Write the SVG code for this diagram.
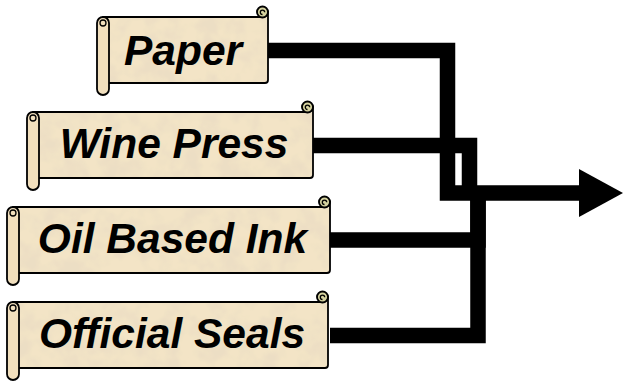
<svg xmlns="http://www.w3.org/2000/svg" width="623" height="381" viewBox="0 0 623 381">
  <defs>
    <!-- mottled parchment texture -->
    <filter id="mottle" x="0" y="0" width="623" height="381" filterUnits="userSpaceOnUse">
      <feTurbulence type="fractalNoise" baseFrequency="0.05" numOctaves="3" seed="7" result="noise"/>
      <feColorMatrix in="noise" type="matrix" values="0 0 0 0 0.84  0 0 0 0 0.73  0 0 0 0 0.55  3.2 0 0 0 -1.3" result="blot"/>
      <feComposite in="blot" in2="SourceGraphic" operator="in" result="blotIn"/>
      <feMerge>
        <feMergeNode in="SourceGraphic"/>
        <feMergeNode in="blotIn"/>
      </feMerge>
    </filter>
    <pattern id="parchment" patternUnits="userSpaceOnUse" x="0" y="0" width="623" height="381">
      <rect x="0" y="0" width="623" height="381" fill="#F3E4C6" filter="url(#mottle)"/>
    </pattern>
  </defs>
  <style>
    .body { fill: url(#parchment); stroke: #000; stroke-width: 1.8; stroke-linejoin: round; }
    .roll { fill: #F1DFBD; stroke: #000; stroke-width: 1.8; }
    .loop { fill: none; stroke: #000; stroke-width: 1.3; }
    .curl { fill: #D6D3A0; stroke: #000; stroke-width: 1.9; }
    .label { font-family: "Liberation Sans", Arial, sans-serif; font-weight: bold; font-style: italic; font-size: 42.5px; fill: #000; text-anchor: middle; }
    .wire { fill: none; stroke: #000; stroke-width: 15.5; stroke-linejoin: miter; stroke-linecap: butt; }
  </style>

  <rect width="623" height="381" fill="#fff"/>

  <!-- connectors -->
  <g id="connectors">
    <path class="wire" d="M268,50.5 H447.5 V193 H582"/>
    <path class="wire" d="M312,145.5 H469.5 V193"/>
    <path class="wire" d="M330,240 H478 V193"/>
    <path class="wire" d="M330,335.5 H478 V193"/>
    <polygon points="579,169 623,193 579,217" fill="#000"/>
  </g>

  <!-- Paper -->
  <g id="node-paper">
    <path class="body" d="M103,17 H262.5 A5.5,5.5 0 0 0 268,11.5 V80 Q268,83 265,83 H103 Z"/>
    <rect class="roll" x="97" y="17" width="12" height="78" rx="6"/>
    <circle class="loop" cx="103" cy="23" r="3"/>
    <circle class="curl" cx="262.5" cy="12" r="5.5"/>
    <path class="loop" d="M262.5,14.5 a2.2,2.2 0 1 1 2.2,-2.2"/>
    <text class="label" x="183" y="65">Paper</text>
  </g>

  <!-- Wine Press -->
  <g id="node-wine-press">
    <path class="body" d="M33,112 H307.5 A5.5,5.5 0 0 0 313,106.5 V175 Q313,178 310,178 H33 Z"/>
    <rect class="roll" x="27" y="112" width="12" height="78" rx="6"/>
    <circle class="loop" cx="33" cy="118" r="3"/>
    <circle class="curl" cx="307.5" cy="107" r="5.5"/>
    <path class="loop" d="M307.5,109.5 a2.2,2.2 0 1 1 2.2,-2.2"/>
    <text class="label" x="174" y="158">Wine Press</text>
  </g>

  <!-- Oil Based Ink -->
  <g id="node-oil-based-ink">
    <path class="body" d="M13,207 H324.5 A5.5,5.5 0 0 0 330,201.5 V270 Q330,273 327,273 H13 Z"/>
    <rect class="roll" x="7" y="207" width="12" height="78" rx="6"/>
    <circle class="loop" cx="13" cy="213" r="3"/>
    <circle class="curl" cx="324.5" cy="202" r="5.5"/>
    <path class="loop" d="M324.5,204.5 a2.2,2.2 0 1 1 2.2,-2.2"/>
    <text class="label" x="172.5" y="253">Oil Based Ink</text>
  </g>

  <!-- Official Seals -->
  <g id="node-official-seals">
    <path class="body" d="M13,302 H322.5 A5.5,5.5 0 0 0 328,296.5 V365 Q328,368 325,368 H13 Z"/>
    <rect class="roll" x="7" y="302" width="12" height="78" rx="6"/>
    <circle class="loop" cx="13" cy="308" r="3"/>
    <circle class="curl" cx="322.5" cy="297" r="5.5"/>
    <path class="loop" d="M322.5,299.5 a2.2,2.2 0 1 1 2.2,-2.2"/>
    <text class="label" x="172" y="348">Official Seals</text>
  </g>
</svg>
